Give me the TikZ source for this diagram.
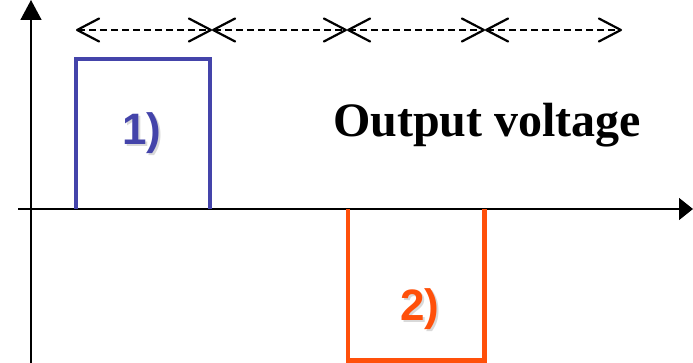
\documentclass[tikz,border=0pt]{standalone}
\usepackage{fontspec}
\setmainfont{Liberation Serif}
\newfontfamily\arialfont{Liberation Sans}
\usetikzlibrary{arrows.meta}
\definecolor{pulseblue}{RGB}{68,68,170}
\definecolor{pulseorange}{RGB}{255,80,10}
\newcommand{\shadowtext}[2]{\rlap{\hspace{2pt}\raisebox{-2pt}{\textcolor{black!15}{#2}}}\textcolor{#1}{#2}}
\tikzset{
  axis/.style={line width=1.6pt, -{Triangle[length=20pt,width=21pt]}},
  pulse/.style={line width=4.5pt, line join=miter, line cap=butt},
  barb/.tip={Straight Barb[length=22pt,width=23pt,line width=2.2pt,round]},
  span/.style={line width=1.7pt, dash pattern=on 7pt off 4pt, barb-barb},
  lbl/.style={font=\arialfont\bfseries\fontsize{44}{44}\selectfont, inner sep=0pt, anchor=base west}
}
\begin{document}
\begin{tikzpicture}[x=1pt,y=-1pt]
\useasboundingbox (0,0) rectangle (693,363);
% axes
\coordinate (ybot) at (31,363);
\coordinate (ytop) at (31,0);
\coordinate (xleft) at (18,209);
\coordinate (xright) at (693,209);
\draw[axis] (ybot) -- (ytop);
\draw[axis, -{Triangle[length=14pt,width=22pt]}] (xleft) -- (xright);
% dashed time spans
\coordinate (t0) at (76,30);
\coordinate (t1) at (212,30);
\coordinate (t2) at (347,30);
\coordinate (t3) at (485,30);
\coordinate (t4) at (622,30);
\draw[span] (t0) -- (t1);
\draw[span] (t1) -- (t2);
\draw[span] (t2) -- (t3);
\draw[span] (t3) -- (t4);
% pulses
\coordinate (p1a) at (76,209);
\coordinate (p1b) at (76,59);
\coordinate (p1c) at (210,59);
\coordinate (p1d) at (210,209);
\draw[pulse, pulseblue] (p1a) -- (p1b) -- (p1c) -- (p1d);
\coordinate (p2a) at (348,209);
\coordinate (p2b) at (348,360.5);
\coordinate (p2c) at (484.5,360.5);
\coordinate (p2d) at (484.5,209);
\draw[pulse, pulseorange] (p2a) -- (p2b) -- (p2c) -- (p2d);
% labels
\node[lbl] (l1) at (122,145) {\shadowtext{pulseblue}{1)}};
\node[lbl] (l2) at (400,320) {\shadowtext{pulseorange}{2)}};
\node[inner sep=0pt, anchor=base west, font=\bfseries\fontsize{48}{48}\selectfont] (title) at (333,137) {Output voltage};
\end{tikzpicture}
\end{document}
